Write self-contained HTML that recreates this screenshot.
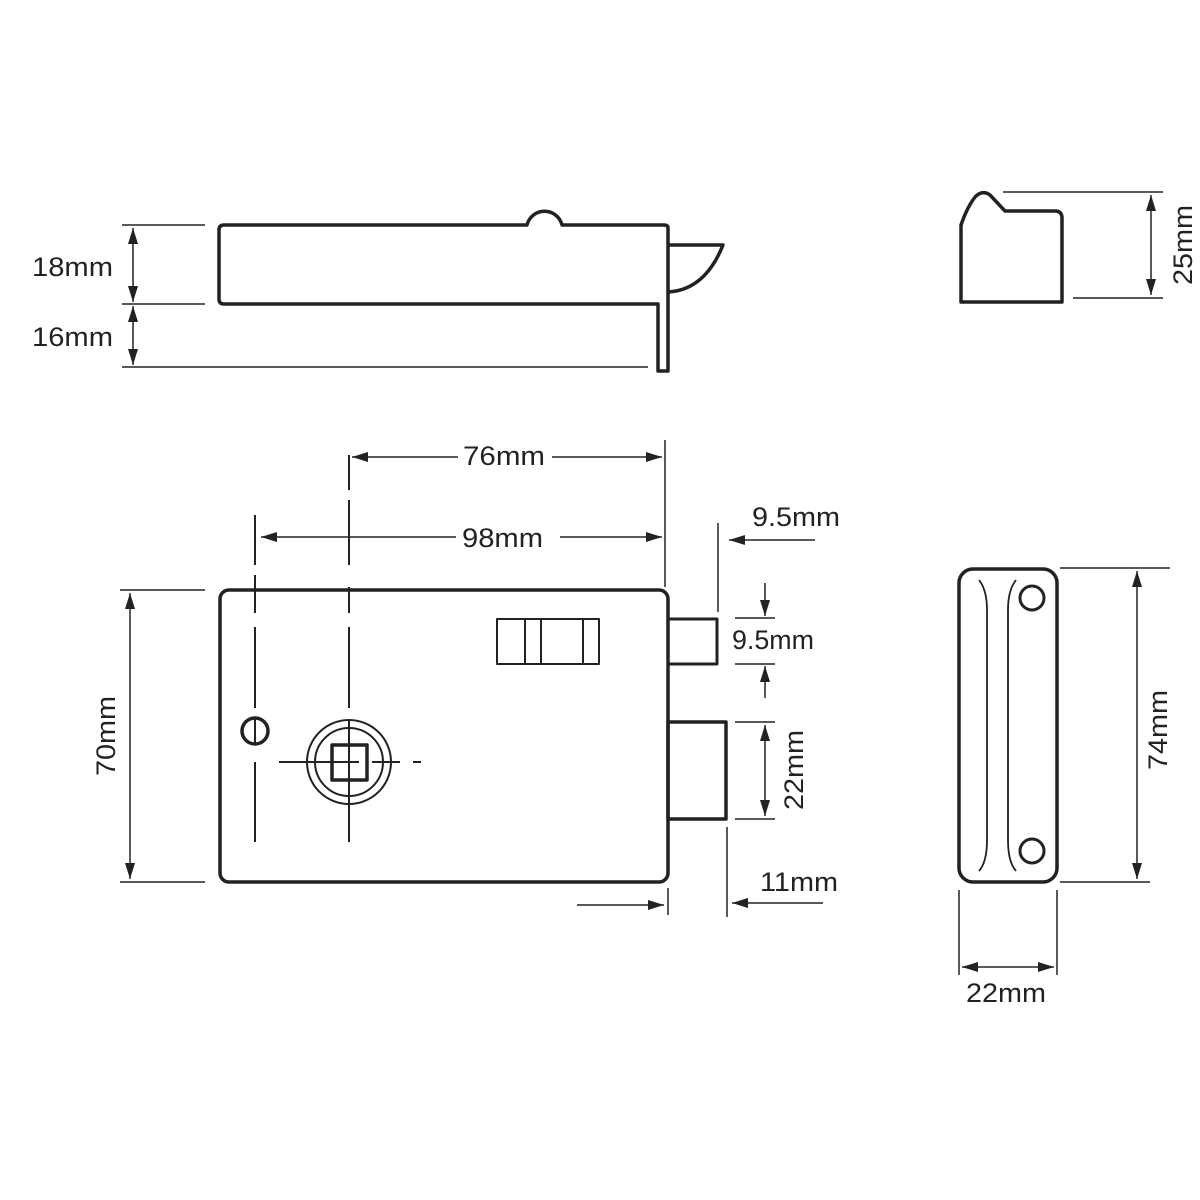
<!DOCTYPE html>
<html><head><meta charset="utf-8"><style>
html,body{margin:0;padding:0;background:#fff}
svg{display:block}
text{font-family:"Liberation Sans",Arial,sans-serif;font-size:27px;fill:#222}
</style></head><body>
<svg width="1200" height="1200" viewBox="0 0 1200 1200" xmlns="http://www.w3.org/2000/svg">
<defs>
<marker id="a" viewBox="0 0 16 10" refX="16" refY="5" markerWidth="16" markerHeight="10" markerUnits="userSpaceOnUse" orient="auto-start-reverse">
<path d="M0,0 L16,5 L0,10 Z" fill="#222"/></marker>
</defs>
<g fill="none" stroke="#222" stroke-linejoin="round">
<path d="M668,371 L668,228 Q668,225 664,225 L562,225 A18,18 0 0 0 527,225 L224,225 Q219,225 219,230 L219,299 Q219,304 224,304 L658,304 L658,371 Z" stroke-width="3.5"/>
<path d="M668,245 L723,245 Q705,290 668,292" stroke-width="3.5"/>
<g stroke-width="1.5">
<line x1="122" y1="225" x2="205" y2="225"/><line x1="122" y1="304" x2="205" y2="304"/><line x1="122" y1="367" x2="648" y2="367"/>
<line x1="133" y1="228" x2="133" y2="302" marker-start="url(#a)" marker-end="url(#a)"/>
<line x1="133" y1="306" x2="133" y2="365" marker-start="url(#a)" marker-end="url(#a)"/>
</g>
<rect x="220" y="590" width="448" height="292" rx="9" stroke-width="3.5"/>
<rect x="668" y="619" width="49" height="45" stroke-width="3"/>
<rect x="668" y="722" width="58" height="97" stroke-width="3.5"/>
<rect x="497" y="619" width="102" height="45" stroke-width="2"/>
<line x1="525" y1="619" x2="525" y2="664" stroke-width="2"/>
<line x1="541" y1="619" x2="541" y2="664" stroke-width="2"/>
<line x1="583" y1="619" x2="583" y2="664" stroke-width="2"/>
<circle cx="255" cy="731" r="13" stroke-width="3.5"/>
<circle cx="349" cy="762" r="42" stroke-width="2"/>
<circle cx="349" cy="762" r="34" stroke-width="2"/>
<rect x="332" y="745" width="35" height="35" stroke-width="3.5"/>
<g stroke-width="2">
<path d="M255,515 V565 M255,575 V613 M255,627 V708 M255,717 V745 M255,762 V842"/>
<path d="M349,455 V490 M349,500 V565 M349,587 V613 M349,627 V708 M349,720 V842"/>
<path d="M279,762 H359 M372,762 H400 M413,762 H421"/>
</g>
<g stroke-width="1.5">
<line x1="665" y1="440" x2="665" y2="587"/>
<line x1="352" y1="457" x2="662" y2="457" marker-start="url(#a)" marker-end="url(#a)"/>
<line x1="261" y1="537" x2="662" y2="537" marker-start="url(#a)" marker-end="url(#a)"/>
<line x1="718" y1="523" x2="718" y2="612"/>
<line x1="815" y1="540" x2="729" y2="540" marker-end="url(#a)"/>
<line x1="735" y1="618" x2="775" y2="618"/><line x1="735" y1="664" x2="775" y2="664"/>
<line x1="765" y1="583" x2="765" y2="616" marker-end="url(#a)"/>
<line x1="765" y1="698" x2="765" y2="666" marker-end="url(#a)"/>
<line x1="735" y1="722" x2="775" y2="722"/><line x1="735" y1="819" x2="775" y2="819"/>
<line x1="765" y1="725" x2="765" y2="816" marker-start="url(#a)" marker-end="url(#a)"/>
<line x1="668" y1="888" x2="668" y2="915"/>
<line x1="727" y1="827" x2="727" y2="917"/>
<line x1="577" y1="905" x2="664" y2="905" marker-end="url(#a)"/>
<line x1="823" y1="903" x2="732" y2="903" marker-end="url(#a)"/>
<line x1="120" y1="590" x2="205" y2="590"/><line x1="120" y1="882" x2="205" y2="882"/>
<line x1="130" y1="593" x2="130" y2="879" marker-start="url(#a)" marker-end="url(#a)"/>
</g>
<path d="M961,302 L961,225 Q968,205 976,196 Q983,190 990,195 L1005,211 L1055,211 Q1062,211 1062,218 L1062,302 Z" stroke-width="3.5"/>
<g stroke-width="1.5">
<line x1="1003" y1="192" x2="1163" y2="192"/><line x1="1073" y1="298" x2="1163" y2="298"/>
<line x1="1151" y1="195" x2="1151" y2="295" marker-start="url(#a)" marker-end="url(#a)"/>
</g>
<rect x="959" y="569" width="98" height="313" rx="14" stroke-width="3.5"/>
<circle cx="1032" cy="598" r="12" stroke-width="3"/>
<circle cx="1032" cy="851" r="12" stroke-width="3"/>
<path d="M979,580 Q987,590 987,610 L987,840 Q987,862 979,871" stroke-width="1.8"/>
<path d="M1016,580 Q1008,590 1008,610 L1008,840 Q1008,862 1016,871" stroke-width="1.8"/>
<g stroke-width="1.5">
<line x1="1060" y1="568" x2="1170" y2="568"/><line x1="1060" y1="882" x2="1150" y2="882"/>
<line x1="1137" y1="571" x2="1137" y2="879" marker-start="url(#a)" marker-end="url(#a)"/>
<line x1="959" y1="890" x2="959" y2="975"/><line x1="1057" y1="890" x2="1057" y2="975"/>
<line x1="962" y1="967" x2="1054" y2="967" marker-start="url(#a)" marker-end="url(#a)"/>
</g>
</g>
<rect x="458" y="440" width="94" height="30" fill="#fff"/>
<rect x="456" y="520" width="104" height="30" fill="#fff"/>
<text x="32" y="276" textLength="81" lengthAdjust="spacingAndGlyphs">18mm</text>
<text x="32" y="346" textLength="81" lengthAdjust="spacingAndGlyphs">16mm</text>
<text x="463" y="465" textLength="82" lengthAdjust="spacingAndGlyphs">76mm</text>
<text x="462" y="547" textLength="81" lengthAdjust="spacingAndGlyphs">98mm</text>
<text x="752" y="526" textLength="88" lengthAdjust="spacingAndGlyphs">9.5mm</text>
<text x="732" y="649" textLength="82" lengthAdjust="spacingAndGlyphs">9.5mm</text>
<text x="760" y="891" textLength="78" lengthAdjust="spacingAndGlyphs">11mm</text>
<text x="966" y="1002" textLength="80" lengthAdjust="spacingAndGlyphs">22mm</text>
<text transform="translate(803,770) rotate(-90)" text-anchor="middle" textLength="80" lengthAdjust="spacingAndGlyphs">22mm</text>
<text transform="translate(115,736) rotate(-90)" text-anchor="middle" textLength="80" lengthAdjust="spacingAndGlyphs">70mm</text>
<text transform="translate(1192,245) rotate(-90)" text-anchor="middle" textLength="80" lengthAdjust="spacingAndGlyphs">25mm</text>
<text transform="translate(1167,730) rotate(-90)" text-anchor="middle" textLength="80" lengthAdjust="spacingAndGlyphs">74mm</text>
</svg>
</body></html>
